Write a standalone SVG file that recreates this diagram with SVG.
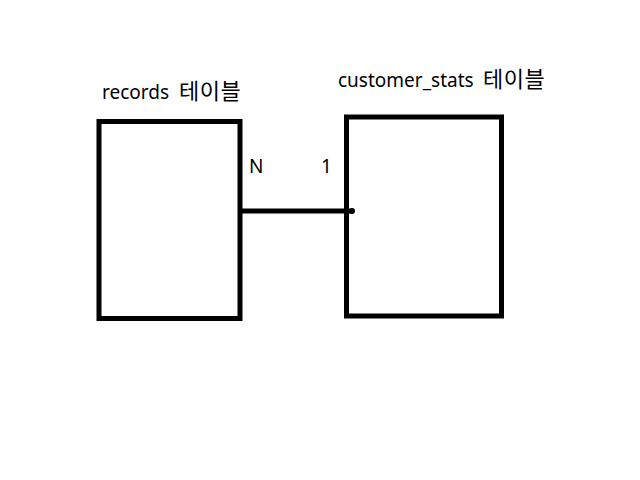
<svg xmlns="http://www.w3.org/2000/svg" width="640" height="480" viewBox="0 0 640 480">
<style>
.box{fill:none;stroke:#000;stroke-width:5}
.t{font-family:"Noto Sans","Noto Sans CJK KR",sans-serif;font-size:19px;fill:#000}
.k{font-family:"Noto Sans CJK KR",sans-serif;font-size:22px;letter-spacing:0.5px}
.c{stroke:#000;stroke-width:5;fill:none}
</style>
<rect width="640" height="480" fill="#fff"/>
<g id="records">
<rect class="box" x="99" y="121.5" width="141" height="197"/>
<text class="t" x="102" y="99">records <tspan class="k" x="179">테이블</tspan></text>
</g>
<g id="customer_stats">
<rect class="box" x="346.5" y="117" width="155" height="199"/>
<text class="t" x="338" y="87">customer_stats <tspan class="k" x="483">테이블</tspan></text>
</g>
<g id="connectors">
<line class="c" x1="240" y1="211" x2="351" y2="211"/>
<circle cx="352" cy="211" r="3" fill="#000"/>
<text class="t" x="249" y="173" fill="#0a1a3a">N</text>
<text class="t" x="321" y="173" fill="#2a1a0a">1</text>
</g>
</svg>
